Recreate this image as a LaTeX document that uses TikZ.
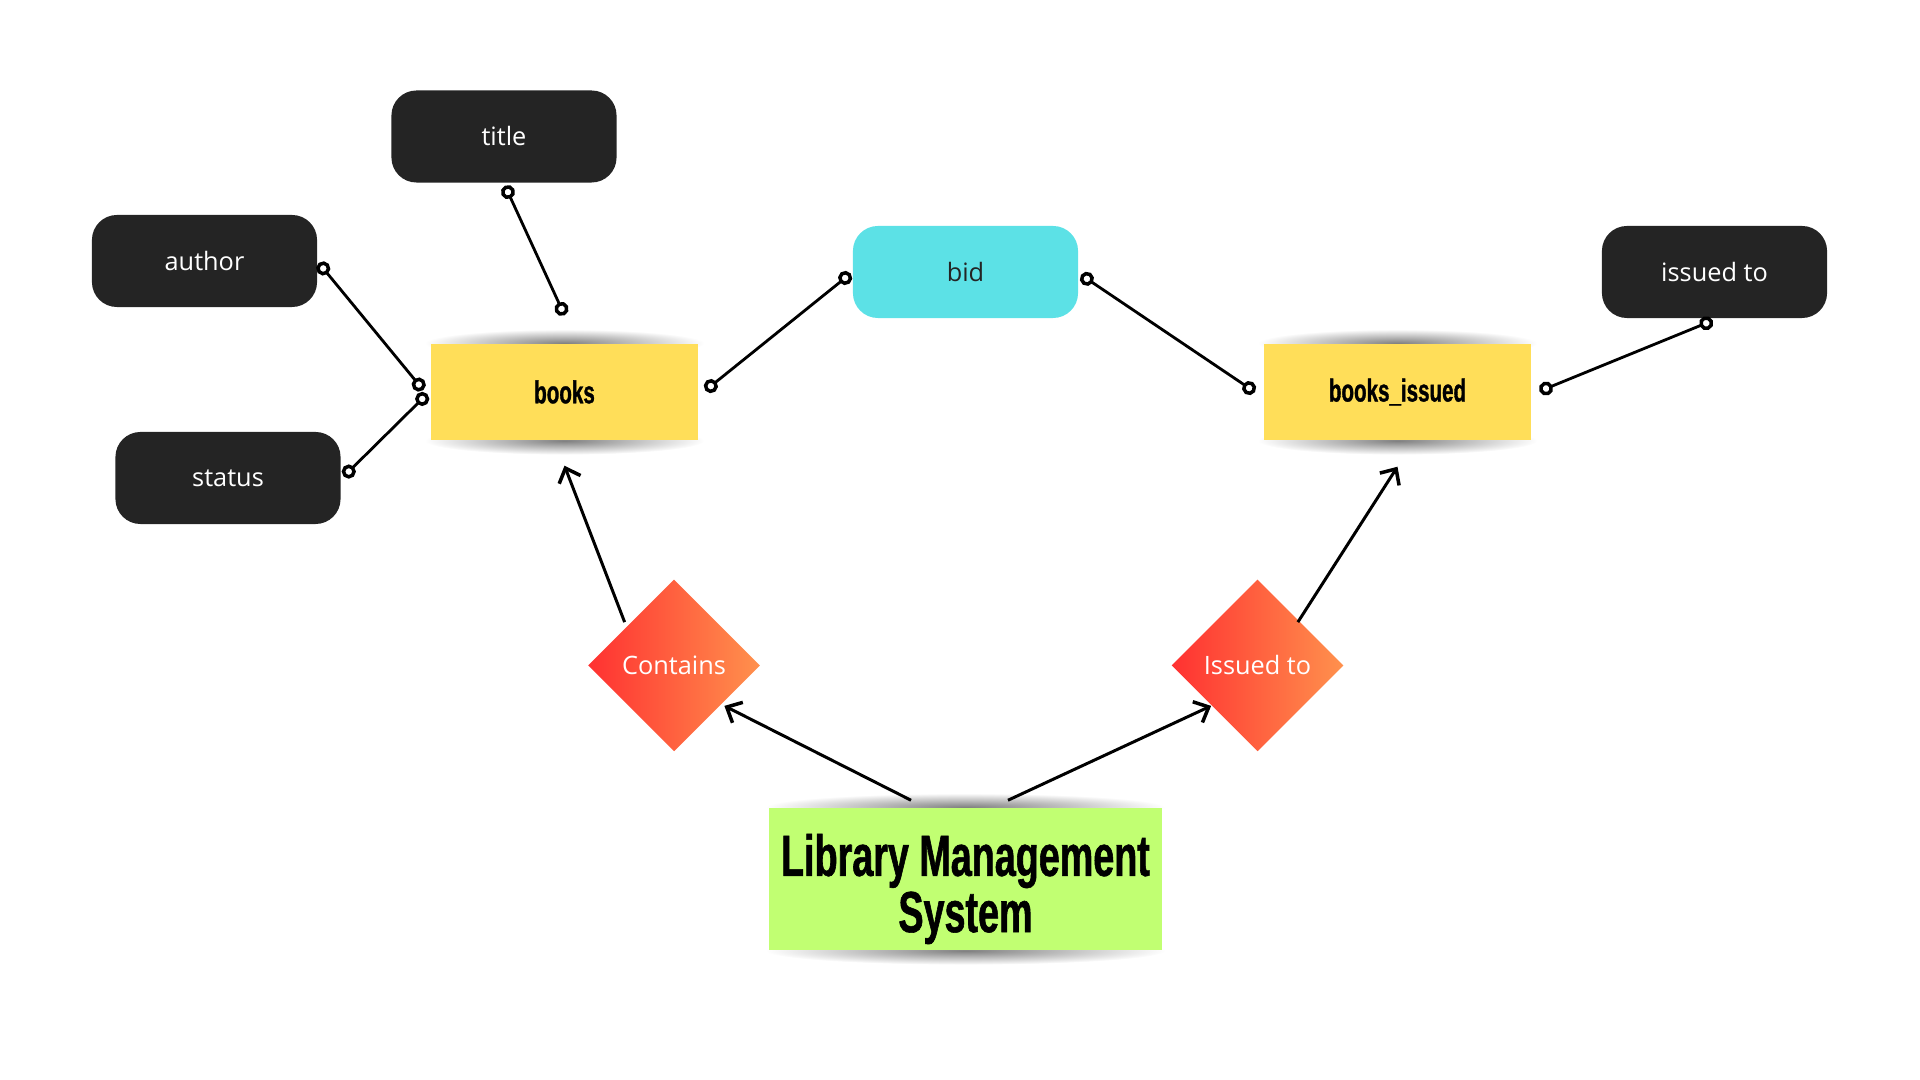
\documentclass[tikz,border=0pt]{standalone}
\usepackage{fontspec}
\setmainfont{Open Sans}
\newfontfamily\headfont[FakeStretch=0.65,FakeBold=1]{Liberation Sans}
\usetikzlibrary{arrows.meta, shapes.geometric, calc, backgrounds}

\definecolor{attrgray}{HTML}{242424}
\definecolor{bidcyan}{HTML}{5CE1E6}
\definecolor{entyellow}{HTML}{FFDE59}
\definecolor{sysgreen}{HTML}{C1FF72}
\definecolor{relred}{HTML}{FF3131}
\definecolor{relorange}{HTML}{FF914D}

\tikzset{
	attr/.style={rectangle, rounded corners=0.25cm, fill=attrgray, text=white, minimum width=2.25cm, minimum height=0.92cm, font=\fontsize{7.2}{9}\selectfont},
	entity/.style={rectangle, fill=entyellow, minimum width=2.67cm, minimum height=0.96cm, font=\headfont\bfseries\fontsize{9}{10}\selectfont},
	relation/.style={diamond, aspect=1, left color=relred, right color=relorange, minimum width=1.72cm, minimum height=1.72cm, inner sep=0pt, text=white, font=\fontsize{7.2}{9}\selectfont},
	link/.style={line width=0.8pt, {Circle[open, fill=white, length=4pt, line width=1pt]}-{Circle[open, fill=white, length=4pt, line width=1pt]}},
	flow/.style={line width=0.85pt, -{Straight Barb[length=3.5pt, width=6.5pt, line width=1pt]}},
}

% Soft paper shadow above and below a box.
\newcommand{\papershade}[2]{%
	\shade[inner color=black!50, outer color=white] (#1.north) ellipse [x radius=#2, y radius=14];
	\shade[inner color=black!50, outer color=white] (#1.south) ellipse [x radius=#2, y radius=14];
}

\begin{document}
\begin{tikzpicture}[x=0.01cm, y=-0.01cm]
	
	% Fix the page size.
	\useasboundingbox (0,0) rectangle (1920,1080);
	
	% Draw the attributes.
	\foreach \name/\x/\y/\txt in {title/504/136.5/title, author/204.5/261/author, status/228/478/status, issuedto/1714.5/272/issued to}{
		\node[attr] (\name) at (\x,\y) {\txt};
	}
	\node[attr, fill=bidcyan, text=attrgray] (bid) at (965.5,272) {bid};
	
	% Draw the entities.
	\node[entity] (books) at (564.5,392) {books};
	\node[entity] (issued) at (1397.5,392) {books\_issued};
	
	% Draw the relations.
	\node[relation] (contains) at (674,665.5) {Contains};
	\node[relation] (issuedrel) at (1257.5,665.5) {Issued to};
	
	% Draw the main system box.
	\node[rectangle, fill=sysgreen, minimum width=3.93cm, minimum height=1.42cm,
		label={[name=lmstext, align=center, yshift=-0.1cm, font=\headfont\bfseries\fontsize{16.5}{16}\selectfont]center:Library Management\\System}] (lms) at (965.5,879) {};
	
	% Draw the shadows behind the boxes.
	\begin{pgfonlayer}{background}
		\papershade{books}{140}
		\papershade{issued}{140}
		\papershade{lms}{200}
	\end{pgfonlayer}
	
	% Draw the attribute links.
	\draw[link] ($(title.south)+(1,2.5)$) -- ($(books.north)+(0,-28)$);
	\draw[link] ($(author.east)+(1,2)$) -- ($(books.west)+(-7,-2)$);
	\draw[link] ($(status.east)+(2.5,-1.5)$) -- ($(books.west)+(-3,2)$);
	\draw[link] ($(books.east)+(6.6,-1.5)$) -- ($(bid.west)+(-1.6,1.6)$);
	\draw[link] ($(bid.east)+(2.3,2.9)$) -- ($(issued.west)+(-8.3,0)$);
	\draw[link] ($(issued.east)+(7.8,-0.8)$) -- ($(issuedto.south)+(-1.8,1.8)$);
	
	% Draw the relation arrows.
	\draw[flow] ($(contains.north west)+(-6,0)$) -- ($(books.south)+(0,25)$);
	\draw[flow] ($(issuedrel.north east)+(-3,0)$) -- ($(issued.south)+(0,26)$);
	\draw[flow] ($(lms.north)+(-54.5,-7)$) -- ($(contains.south east)+(7,-3)$);
	\draw[flow] ($(lms.north)+(42.5,-7)$) -- ($(issuedrel.south west)+(-3,-3)$);
	
\end{tikzpicture}
\end{document}
